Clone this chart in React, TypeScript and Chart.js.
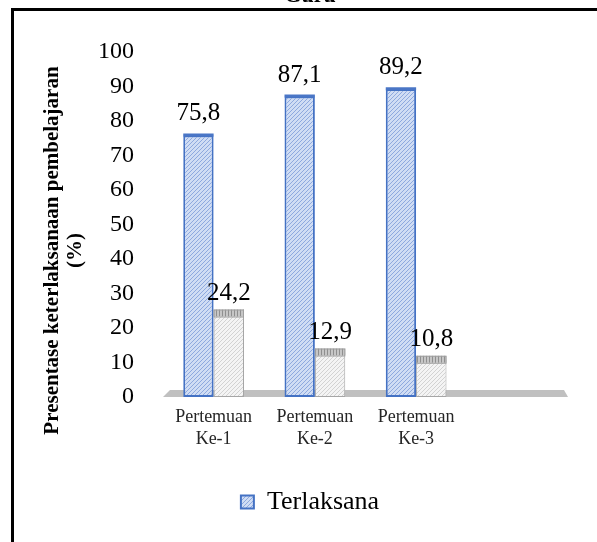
import React, { useEffect, useRef } from "react";
import { Chart, registerables } from "chart.js";

Chart.register(...registerables);

const chartTitle = "Guru";
const categories: (string | string[])[] = [
  ["Pertemuan", "Ke-1"],
  ["Pertemuan", "Ke-2"],
  ["Pertemuan", "Ke-3"],
  "",
];
const seriesNames = ["Terlaksana", "Tidak Terlaksana"];
const terlaksana = [75.8, 87.1, 89.2, null];
const tidakTerlaksana = [24.2, 12.9, 10.8, null];
const yTitleLines = ["Presentase keterlaksanaan pembelajaran", "(%)"];
const yMin = 0;
const yMax = 100;
const yStep = 10;

const SERIF = "'Liberation Serif', 'Times New Roman', serif";

function makeDiagHatch(bg: string, fg: string, size = 4) {
  const c = document.createElement("canvas");
  c.width = size;
  c.height = size;
  const g = c.getContext("2d")!;
  g.fillStyle = bg;
  g.fillRect(0, 0, size, size);
  g.strokeStyle = fg;
  g.lineWidth = 1;
  g.beginPath();
  g.moveTo(0, size);
  g.lineTo(size, 0);
  g.moveTo(-1, 1);
  g.lineTo(1, -1);
  g.moveTo(size - 1, size + 1);
  g.lineTo(size + 1, size - 1);
  g.stroke();
  return g.createPattern(c, "repeat")!;
}

function makeVertHatch(bg: string, fg: string, size = 3) {
  const c = document.createElement("canvas");
  c.width = size;
  c.height = size;
  const g = c.getContext("2d")!;
  g.fillStyle = bg;
  g.fillRect(0, 0, size, size);
  g.fillStyle = fg;
  g.fillRect(0, 0, 1, size);
  return g.createPattern(c, "repeat")!;
}

const fmt = (v: number) => v.toFixed(1).replace(".", ",");

export default function App() {
  const ref = useRef<HTMLCanvasElement | null>(null);

  useEffect(() => {
    if (!ref.current) return;
    const bluePattern = makeDiagHatch("#d0ddf4", "#8ea9de");
    const greyPattern = makeDiagHatch("#f4f4f4", "#d2d2d2");
    const greyCap = makeVertHatch("#c6c6c6", "#8f8f8f");

    const floorPlugin = {
      id: "floor",
      beforeDatasetsDraw(chart: any) {
        const { ctx, chartArea } = chart;
        const b = chartArea.bottom;
        ctx.save();
        ctx.fillStyle = "#c0c0c0";
        ctx.beginPath();
        ctx.moveTo(chartArea.left, b);
        ctx.lineTo(chartArea.left + 7, b - 7);
        ctx.lineTo(chartArea.right - 4, b - 7);
        ctx.lineTo(chartArea.right, b);
        ctx.closePath();
        ctx.fill();
        ctx.restore();
      },
    };

    const capsAndLabels = {
      id: "capsAndLabels",
      afterDatasetsDraw(chart: any) {
        const { ctx } = chart;
        ctx.save();
        chart.data.datasets.forEach((ds: any, di: number) => {
          const meta = chart.getDatasetMeta(di);
          meta.data.forEach((bar: any, i: number) => {
            const v = ds.data[i];
            if (v == null) return;
            const { x, y, width } = bar.getProps(["x", "y", "width"], true);
            if (di === 0) {
              ctx.fillStyle = "#4a76c6";
              ctx.fillRect(x - width / 2, y - 2, width, 3);
            } else {
              ctx.fillStyle = greyCap;
              ctx.fillRect(x - width / 2, y - 4, width, 7);
              ctx.strokeStyle = "#a0a0a0";
              ctx.lineWidth = 1;
              ctx.strokeRect(x - width / 2 + 0.5, y - 3.5, width - 1, 7);
            }
            ctx.fillStyle = "#000";
            ctx.font = `25px ${SERIF}`;
            ctx.textAlign = "center";
            ctx.textBaseline = "alphabetic";
            ctx.fillText(fmt(v), x, y - (di === 0 ? 15 : 14));
          });
        });
        ctx.restore();
      },
    };

    const yTitlePlugin = {
      id: "yTitle",
      afterDraw(chart: any) {
        const { ctx, chartArea } = chart;
        const cy = (chartArea.top + chartArea.bottom) / 2 + 26;
        ctx.save();
        ctx.fillStyle = "#000";
        ctx.font = `bold 21px ${SERIF}`;
        ctx.textAlign = "center";
        ctx.textBaseline = "middle";
        const xs = [53, 76];
        yTitleLines.forEach((line, k) => {
          ctx.save();
          ctx.translate(xs[k], cy);
          ctx.rotate(-Math.PI / 2);
          ctx.fillText(line, 0, 0);
          ctx.restore();
        });
        ctx.restore();
      },
    };

    const chart = new Chart(ref.current, {
      type: "bar",
      data: {
        labels: categories,
        datasets: [
          {
            label: seriesNames[0],
            data: terlaksana,
            backgroundColor: bluePattern,
            borderColor: "#4472c4",
            borderWidth: 2,
            borderSkipped: false,
            categoryPercentage: 0.6,
            barPercentage: 1.0,
            yAxisID: "y",
          },
          {
            label: seriesNames[1],
            data: tidakTerlaksana,
            backgroundColor: greyPattern,
            borderColor: "#a6a6a6",
            borderWidth: 1,
            borderSkipped: false,
            categoryPercentage: 0.6,
            barPercentage: 1.0,
            yAxisID: "y",
          },
        ],
      },
      options: {
        responsive: false,
        animation: false,
        devicePixelRatio: 1,
        layout: { padding: { left: 0, right: 0, top: 0, bottom: 0 } },
        plugins: {
          title: {
            display: true,
            text: chartTitle,
            color: "#000",
            font: { family: SERIF, size: 22, weight: "bold", lineHeight: 1.2 },
            padding: { top: 1, bottom: 42.6 },
          },
          legend: {
            display: true,
            position: "bottom",
            labels: {
              filter: (item: any) => item.datasetIndex === 0,
              color: "#000",
              font: { family: SERIF, size: 26 },
              boxWidth: 13,
              boxHeight: 13,
              padding: 29.5,
            },
          },
          tooltip: { enabled: false },
        },
        scales: {
          x: {
            grid: { display: false, drawTicks: false },
            border: { display: false },
            ticks: {
              color: "#262626",
              font: { family: SERIF, size: 18, lineHeight: 1.18 },
              padding: 10,
              maxRotation: 0,
              autoSkip: false,
            },
          },
          y: {
            min: yMin,
            max: yMax,
            grid: { display: false, drawTicks: false },
            border: { display: false },
            ticks: {
              stepSize: yStep,
              color: "#000",
              font: { family: SERIF, size: 24 },
              padding: 29,
            },
            afterFit: (s: any) => {
              s.width = 163;
            },
          },
          yRight: {
            position: "right",
            display: true,
            grid: { display: false, drawTicks: false },
            border: { display: false },
            ticks: { display: false },
            afterFit: (s: any) => {
              s.width = 52;
            },
          },
        },
      },
      plugins: [floorPlugin, capsAndLabels, yTitlePlugin],
    } as any);

    return () => chart.destroy();
  }, []);

  return (
    <div
      style={{
        position: "fixed",
        left: 0,
        top: 0,
        width: 597,
        height: 542,
        overflow: "hidden",
        background: "#fff",
      }}
    >
      <div style={{ position: "absolute", left: 0, top: -18 }}>
        <canvas ref={ref} width={620} height={543} />
      </div>
      <div
        style={{
          position: "absolute",
          left: 11,
          top: 8,
          width: 700,
          height: 700,
          border: "3px solid #000",
          pointerEvents: "none",
        }}
      />
    </div>
  );
}
